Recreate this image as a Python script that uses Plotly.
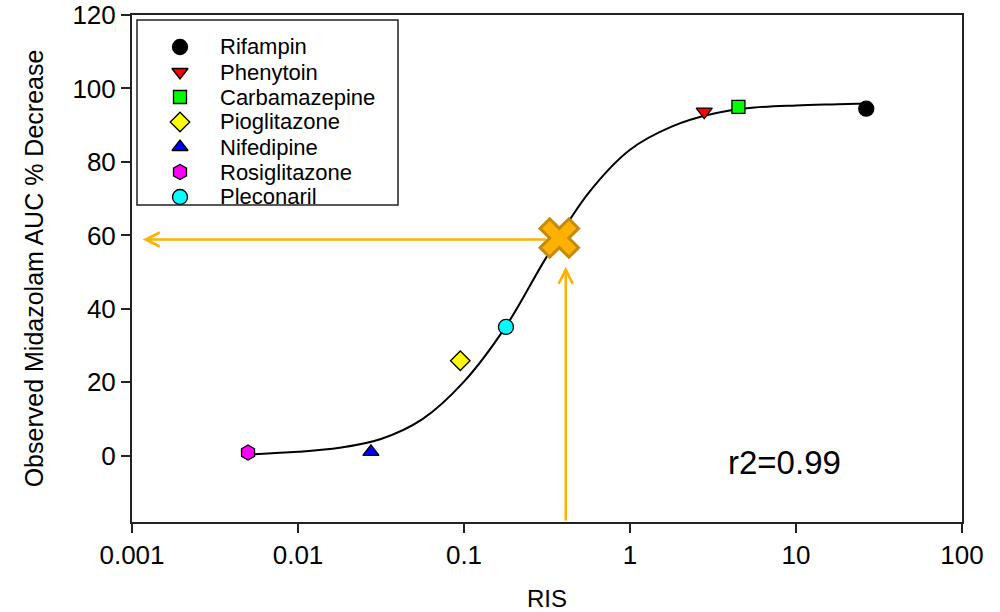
import numpy as np
import plotly.graph_objects as go

# ---- data ----
drugs = ["Rifampin", "Phenytoin", "Carbamazepine", "Pioglitazone",
         "Nifedipine", "Rosiglitazone", "Pleconaril"]
ris = [26.5, 2.8, 4.5, 0.095, 0.0275, 0.005, 0.179]
auc_decrease = [94.5, 93.7, 95.0, 25.9, 1.1, 0.9, 35.1]

# fitted curve
fit_ris = [0.005, 0.01, 0.0178, 0.0316, 0.0562, 0.1, 0.178, 0.316,
           0.562, 1.0, 1.78, 3.16, 5.62, 10.0, 17.8, 26.8]
fit_auc = [0.4, 1.1, 2.2, 4.6, 10.0, 20.2, 35.1, 54.3,
           71.5, 83.3, 89.6, 93.1, 94.8, 95.4, 95.7, 95.9]

# predicted point
pred_ris = [0.375]
pred_auc = [59.3]

x_tickvals = [0.001, 0.01, 0.1, 1, 10, 100]
x_ticktext = ["0.001", "0.01", "0.1", "1", "10", "100"]
r2_text = "r2=0.99"

# ---- styles ----
symbols = ["circle", "triangle-down", "square", "diamond",
           "triangle-up", "hexagon", "circle"]
colors = ["#000000", "#FF0000", "#00FF00", "#FFFF00",
          "#0000FF", "#FF00FF", "#00FFFF"]
sizes = [15, 14, 13, 15, 14, 15, 15]
FONT = "Liberation Sans, Arial, sans-serif"
ORANGE = "#FFB000"

fig = go.Figure()

fig.add_trace(go.Scatter(x=fit_ris, y=fit_auc, mode="lines",
                         line=dict(color="black", width=2, shape="spline", smoothing=1.0),
                         showlegend=False, hoverinfo="skip"))

for i, name in enumerate(drugs):
    fig.add_trace(go.Scatter(
        x=[ris[i]], y=[auc_decrease[i]], mode="markers", name=name,
        showlegend=False,
        marker=dict(symbol=symbols[i], color=colors[i], size=sizes[i],
                    line=dict(color="black", width=1.3))))

# arrows
fig.add_annotation(x=np.log10(0.00116), y=pred_auc[0] - 0.4,
                   ax=np.log10(0.318), ay=pred_auc[0] - 0.4,
                   xref="x", yref="y", axref="x", ayref="y",
                   showarrow=True, arrowhead=5, arrowsize=1.1, arrowwidth=2.5,
                   arrowcolor=ORANGE, text="")
fig.add_annotation(x=np.log10(0.41), y=51.5,
                   ax=np.log10(0.41), ay=-18,
                   xref="x", yref="y", axref="x", ayref="y",
                   showarrow=True, arrowhead=5, arrowsize=1.1, arrowwidth=2.5,
                   arrowcolor=ORANGE, text="")

fig.add_trace(go.Scatter(x=pred_ris, y=pred_auc, mode="markers", showlegend=False,
                         marker=dict(symbol="x", size=34, color=ORANGE,
                                     line=dict(color="#C48A0C", width=3)),
                         hoverinfo="skip"))

fig.add_annotation(x=0.857, y=0.077, xref="paper", yref="paper",
                   text=r2_text, showarrow=False,
                   font=dict(family=FONT, size=33, color="black"))

# ---- manual legend (box, symbols, labels) in plot-area fractions ----
PLOT_L, PLOT_W, PLOT_B, PLOT_H = 132, 830, 522, 507
def px_x(p):
    return (p - PLOT_L) / PLOT_W
def px_y(p):
    return (PLOT_B - p) / PLOT_H

fig.add_shape(type="rect", xref="paper", yref="paper",
              x0=px_x(137), x1=px_x(398), y0=px_y(205), y1=px_y(20),
              line=dict(color="#222", width=1.5), fillcolor="rgba(0,0,0,0)",
              layer="above")
leg_y = [px_y(47 + 25 * i) for i in range(len(drugs))]
fig.add_trace(go.Scatter(
    x=[px_x(180)] * len(drugs), y=leg_y, xaxis="x2", yaxis="y2",
    mode="markers", showlegend=False, hoverinfo="skip",
    marker=dict(symbol=symbols, color=colors, size=sizes, opacity=1,
                line=dict(color="black", width=1.3))))
for i, name in enumerate(drugs):
    fig.add_annotation(x=px_x(218), y=leg_y[i], xref="paper", yref="paper",
                       text=name, showarrow=False, xanchor="left", yanchor="middle",
                       font=dict(family=FONT, size=22, color="black"))

axis_common = dict(showgrid=False, zeroline=False, showline=True, linecolor="#222",
                   linewidth=2, mirror=True, ticks="outside", ticklen=9,
                   tickwidth=2, tickcolor="#222", automargin=False,
                   tickfont=dict(family=FONT, size=26, color="black"))

fig.update_xaxes(type="log", range=[-3, 2], tickvals=x_tickvals, ticktext=x_ticktext,
                 title=dict(text="RIS", font=dict(family=FONT, size=24, color="black"),
                            standoff=22),
                 **axis_common)
fig.update_yaxes(range=[-18, 120], tick0=0, dtick=20,
                 title=dict(text="Observed Midazolam AUC % Decrease",
                            font=dict(family=FONT, size=25, color="black"),
                            standoff=22),
                 **axis_common)

fig.update_layout(
    width=1000, height=612,
    margin=dict(l=132, r=38, t=15, b=90),
    plot_bgcolor="white", paper_bgcolor="white",
    font=dict(family=FONT, color="black"),
    showlegend=False,
    xaxis2=dict(overlaying="x", range=[0, 1], visible=False, fixedrange=True),
    yaxis2=dict(overlaying="y", range=[0, 1], visible=False, fixedrange=True),
)

fig.write_html("out.html")
